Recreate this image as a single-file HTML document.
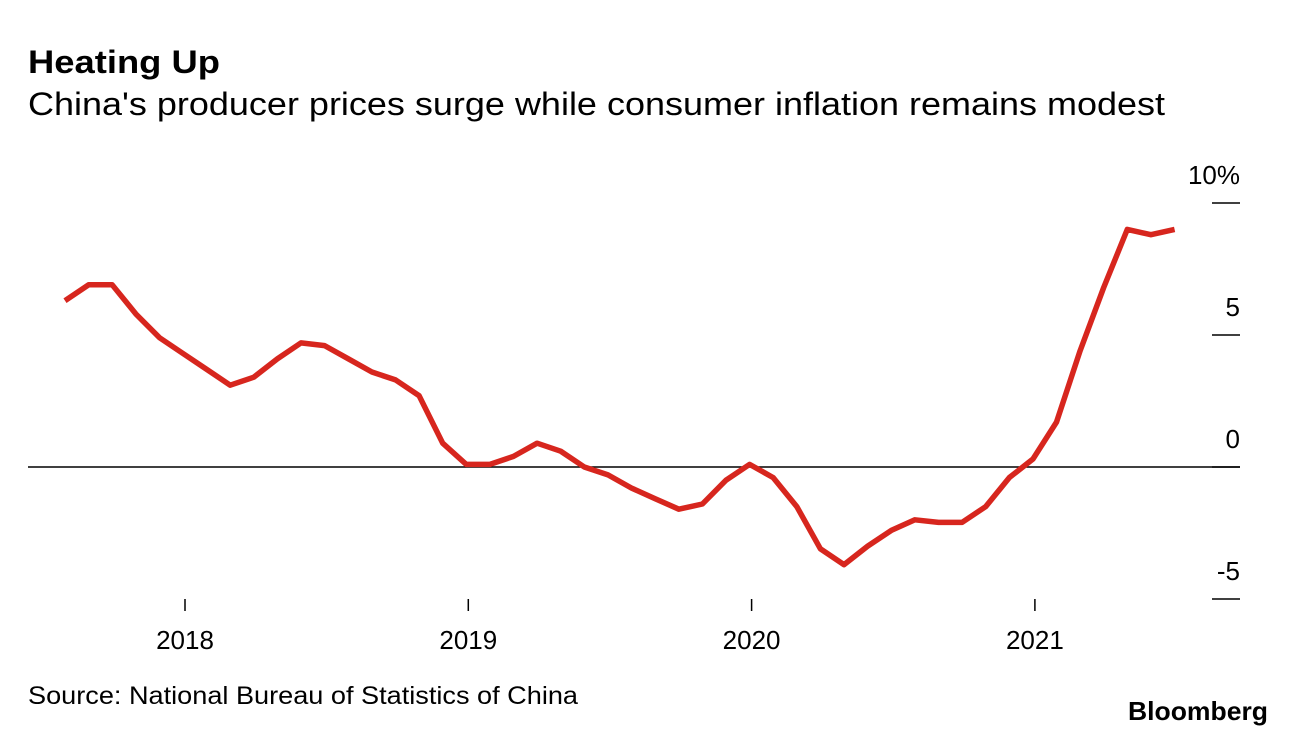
<!DOCTYPE html>
<html><head><meta charset="utf-8"><style>
body{margin:0;background:#fff;width:1296px;height:736px;overflow:hidden;font-family:"Liberation Sans",sans-serif;}
</style></head><body>
<svg width="1296" height="736" style="position:absolute;left:0;top:0">
<text x="28" y="73" font-size="32" font-weight="bold" fill="#000" textLength="192" lengthAdjust="spacingAndGlyphs">Heating Up</text>
<text x="28" y="115" font-size="32" fill="#000" textLength="1137" lengthAdjust="spacingAndGlyphs">China's producer prices surge while consumer inflation remains modest</text>
<g id="yaxis"></g>
<g id="xaxis"></g>
<line x1="28" x2="1240" id="zero" stroke="#000" stroke-width="1.5"/>
<path id="line" fill="none" stroke="#d7261e" stroke-width="5.5" stroke-linejoin="round"/>
<text x="28" y="704" font-size="25" fill="#000" textLength="550" lengthAdjust="spacingAndGlyphs">Source: National Bureau of Statistics of China</text>
<text x="1128" y="720" font-size="26" font-weight="bold" fill="#000" textLength="140" lengthAdjust="spacingAndGlyphs">Bloomberg</text>
</svg>
<script>
const startYear = 2017, startMonth = 7; // Aug 2017 (0-based month)
const ppiValues = [6.3,6.9,6.9,5.8,4.9,4.3,3.7,3.1,3.4,4.1,4.7,4.6,4.1,3.6,3.3,2.7,0.9,0.1,0.1,0.4,0.9,0.6,0.0,-0.3,-0.8,-1.2,-1.6,-1.4,-0.5,0.1,-0.4,-1.5,-3.1,-3.7,-3.0,-2.4,-2.0,-2.1,-2.1,-1.5,-0.4,0.3,1.7,4.4,6.8,9.0,8.8,9.0];
const yTicks = [10,5,0,-5];
const yTickLabels = ["10%","5","0","-5"];
const xTicks = [2018,2019,2020,2021];
const NS="http://www.w3.org/2000/svg";
function y(v){return 467 - v*26.4;}
function x(t){return 183 + (t-2018)*283.3;}
function monthT(i){return startYear + (startMonth+i)/12;}
const ya=document.getElementById('yaxis');
yTicks.forEach((v,i)=>{
 const l=document.createElementNS(NS,'line');
 l.setAttribute('x1',1212);l.setAttribute('x2',1240);l.setAttribute('y1',y(v));l.setAttribute('y2',y(v));
 l.setAttribute('stroke','#000');l.setAttribute('stroke-width','1.5');
 
 
 ya.appendChild(l);
 const t=document.createElementNS(NS,'text');
 t.setAttribute('x',1240);t.setAttribute('y',y(v)-19);t.setAttribute('text-anchor','end');t.setAttribute('font-size','26');
 t.textContent=yTickLabels[i];
 
 
 ya.appendChild(t);
});
const xa=document.getElementById('xaxis');
xTicks.forEach(yr=>{
 const l=document.createElementNS(NS,'line');
 l.setAttribute('x1',x(yr)+2);l.setAttribute('x2',x(yr)+2);l.setAttribute('y1',599);l.setAttribute('y2',611);
 l.setAttribute('stroke','#000');l.setAttribute('stroke-width','1.5');
 
 
 xa.appendChild(l);
 const t=document.createElementNS(NS,'text');
 t.setAttribute('x',x(yr)+2);t.setAttribute('y',649);t.setAttribute('text-anchor','middle');t.setAttribute('font-size','26');
 t.textContent=yr;
 
 
 xa.appendChild(t);
});
const z=document.getElementById('zero');z.setAttribute('y1',y(0));z.setAttribute('y2',y(0));
document.getElementById('line').setAttribute('d',ppiValues.map((v,i)=>(i?'L':'M')+x(monthT(i)).toFixed(1)+','+y(v).toFixed(1)).join(' '));
</script>
</body></html>
